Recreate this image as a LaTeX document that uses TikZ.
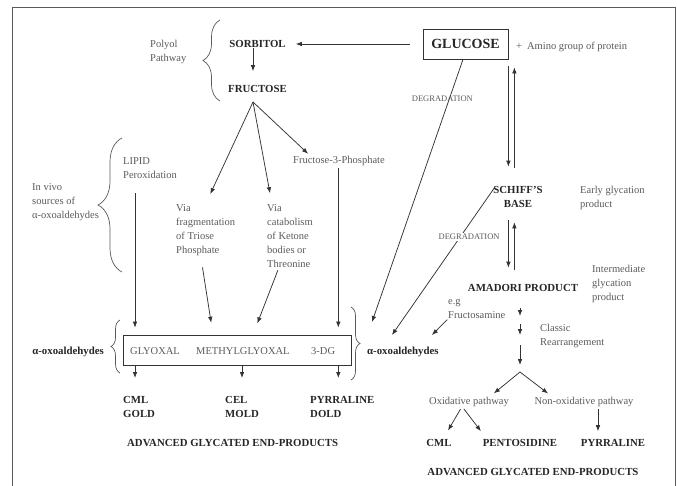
\documentclass[tikz,border=0pt]{standalone}
\usepackage{fontspec}
\setmainfont{Liberation Serif}
\usetikzlibrary{arrows.meta,decorations.pathreplacing}
\definecolor{txtgray}{HTML}{5A5A5A}
\definecolor{lngray}{HTML}{333333}
\newcommand\lblfs{\fontsize{10.5}{14}\selectfont}
\newcommand\chemfs{\fontsize{10.8}{14}\selectfont\bfseries}

\begin{document}
\begin{tikzpicture}[x=1pt,y=-1pt,
    every node/.style={inner sep=0pt},
    lbl/.style={font=\lblfs,text=txtgray,align=left},
    chem/.style={font=\chemfs,text=black!85,align=left},
    degr/.style={font=\fontsize{8.5}{10}\selectfont,text=txtgray},
    arr/.style={draw=lngray,line width=0.75pt,-{Latex[length=6pt,width=4.6pt]}},
    brc/.style={draw=txtgray,line width=0.7pt,decorate,decoration={brace,amplitude=#1}}]
    \useasboundingbox (0,0) rectangle (677,486);
    \draw[gray!70!black,line width=1pt] (12,486) -- (12,8) -- (675,8) -- (675,486);

    \node[lbl,anchor=north west] (polyol) at (150,40) {Polyol\\Pathway};
    \node[chem] (sorbitol) at (257.5,44) {SORBITOL};
    \node[chem] (fructose) at (257.5,89) {FRUCTOSE};
    \node[draw=lngray,line width=0.8pt,font=\fontsize{14}{16}\selectfont\bfseries,text=black!85,
      minimum width=85pt,minimum height=30pt] (glucose) at (465.5,44) {GLUCOSE};
    \node[lbl,anchor=base west] (amino) at (516,50) {+\hspace{5pt}Amino group of protein};
    \node[lbl,anchor=base west] (f3p) at (293,164) {Fructose-3-Phosphate};
    \node[lbl,anchor=north west] (lipid) at (123,157) {LIPID\\Peroxidation};
    \node[lbl,anchor=north west] (invivo) at (32,183) {In vivo\\sources of\\α-oxoaldehydes};
    \node[lbl,anchor=north west] (triose) at (176,204) {Via\\fragmentation\\of Triose\\Phosphate};
    \node[lbl,anchor=north west] (ketone) at (267,204) {Via\\catabolism\\of Ketone\\bodies or\\Threonine};

    \node[draw=lngray,line width=0.8pt,minimum width=228pt,minimum height=30pt] (oxobox) at (237,350) {};
    \node[lbl,anchor=base west] (glyoxal) at (130,354) {GLYOXAL};
    \node[lbl,anchor=base west] (methyl) at (196,354) {METHYLGLYOXAL};
    \node[lbl,anchor=base west] (dg) at (311,354) {3-DG};
    \node[chem,anchor=base east] (oxoleft) at (104,354) {α-oxoaldehydes};
    \node[chem,anchor=base west] (oxoright) at (367,354) {α-oxoaldehydes};
    \node[chem,anchor=north west] (cml1) at (123,396) {CML\\GOLD};
    \node[chem,anchor=north west] (cel) at (225,396) {CEL\\MOLD};
    \node[chem,anchor=north west] (pyr1) at (310,396) {PYRRALINE\\DOLD};
    \node[chem,anchor=base west] (age1) at (127,446) {ADVANCED GLYCATED END-PRODUCTS};

    \node[chem,align=center] (schiff) at (518,196.5) {SCHIFF'S\\BASE};
    \node[lbl,anchor=north west] (early) at (580,186) {Early glycation\\product};
    \node[chem] (amadori) at (523,288) {AMADORI PRODUCT};
    \node[lbl,anchor=north west] (inter) at (592,265) {Intermediate\\glycation\\product};
    \node[lbl,anchor=north west] (eg) at (448,299) {e.g\\Fructosamine};
    \node[lbl,anchor=north west] (classic) at (540,324) {Classic\\Rearrangement};
    \node[lbl,anchor=base] (oxid) at (469,404) {Oxidative pathway};
    \node[lbl,anchor=base] (nonox) at (584,404) {Non-oxidative pathway};
    \node[chem] (cml2) at (439,443) {CML};
    \node[chem] (pento) at (520,443) {PENTOSIDINE};
    \node[chem] (pyr2) at (613,443) {PYRRALINE};
    \node[chem] (age2) at (533,472) {ADVANCED GLYCATED END-PRODUCTS};

    \coordinate (fsplit) at (253,102);
    \coordinate (lipcol) at ([xshift=12pt]lipid.south west);
    \coordinate (dgcol) at ([xshift=3pt]dg.east);
    \coordinate (upcol) at ([xshift=6pt]glucose.south east);
    \coordinate (pyrcol) at ([xshift=14pt]nonox.south);
    \coordinate (oxtip1) at (372,322);
    \coordinate (oxtip2) at (392,335);
    \coordinate (oxtip3) at (432,335);
    \coordinate (k1) at (520,316);
    \coordinate (k2) at (520,324);
    \coordinate (k3) at (520,335);
    \coordinate (k4) at (520,345);
    \coordinate (k5) at (520,365);
    \coordinate (fork) at (520,372);

    \draw[brc=17pt] (220,101) -- (220,20);
    \draw[brc=24pt] (122,272) -- (122,138);
    \draw[brc=9pt] (120,373) -- (120,320);
    \draw[brc=9pt] (351,307) -- (351,380);

    \draw[arr,shorten <=13pt,shorten >=10pt] (glucose.west) -- (glucose.west -| sorbitol.east);
    \draw[arr,shorten >=14pt] ([xshift=-4.5pt]sorbitol.south) -- ([xshift=-4.5pt]fructose.north);
    \draw[arr,shorten >=11pt] (fsplit) -- (triose.north);
    \draw[arr,shorten >=11pt] (fsplit) -- ([xshift=5pt]ketone.north west);
    \draw[arr,shorten >=4pt] (fsplit) -- ([xshift=18pt]f3p.north west);
    \draw[arr,shorten <=2pt,shorten >=7pt] (dgcol |- f3p.south) -- (dgcol |- oxobox.north);
    \draw[arr,shorten <=15pt,shorten >=7pt] (lipcol) -- (lipcol |- oxobox.north);
    \draw[arr,shorten <=12pt,shorten >=12pt] ([xshift=-5pt]triose.south) -- ([xshift=-24pt]oxobox.north);
    \draw[arr,shorten <=3pt,shorten >=12pt] ([xshift=-11pt]ketone.south) -- ([xshift=16pt]oxobox.north);
    \draw[arr,shorten >=18pt] (lipcol |- oxobox.south) -- (lipcol |- cml1.north);
    \draw[arr,shorten >=18pt] (cel.north |- oxobox.south) -- (cel.north);
    \draw[arr,shorten >=18pt] (dgcol |- oxobox.south) -- (dgcol |- pyr1.north);

    \draw[arr] ([xshift=-2.5pt]glucose.south) -- node[degr,pos=0.15,xshift=-7pt] (deg1) {DEGRADATION} (oxtip1);
    \draw[arr] ([xshift=2pt,yshift=-1pt]schiff.north west) -- node[degr,pos=0.34,xshift=9pt,fill=white,inner sep=1pt] (deg2) {DEGRADATION} (oxtip2);
    \draw[arr,shorten <=7pt,shorten >=19pt] (glucose.south east) -- (glucose.south east |- schiff.north);
    \draw[arr,shorten <=18pt,shorten >=8pt] (upcol |- schiff.north) -- (upcol);
    \draw[arr,shorten <=13pt,shorten >=16.5pt] (glucose.south east |- schiff.south) -- (glucose.south east |- amadori.north);
    \draw[arr,shorten <=14.5pt,shorten >=15pt] (upcol |- amadori.north) -- (upcol |- schiff.south);
    \draw[arr,shorten <=1pt] (eg.south west) -- (oxtip3);

    \draw[arr,shorten <=16pt] (amadori.south -| k1) -- (k1);
    \draw[arr] (k2) -- (k3);
    \draw[arr] (k4) -- (k5);
    \draw[arr,shorten >=5pt] (fork) -- ([xshift=21pt]oxid.north);
    \draw[arr,shorten >=5pt] (fork) -- ([xshift=-32pt]nonox.north);
    \draw[arr,shorten <=3pt,shorten >=10pt] ([xshift=-7pt]oxid.south) -- ([xshift=4pt]cml2.north);
    \draw[arr,shorten <=3pt,shorten >=10pt] ([xshift=-7pt]oxid.south) -- ([xshift=-33pt]pento.north);
    \draw[arr,shorten <=3pt,shorten >=8pt] (pyrcol) -- (pyrcol |- pyr2.north);
  \end{tikzpicture}
\end{document}
